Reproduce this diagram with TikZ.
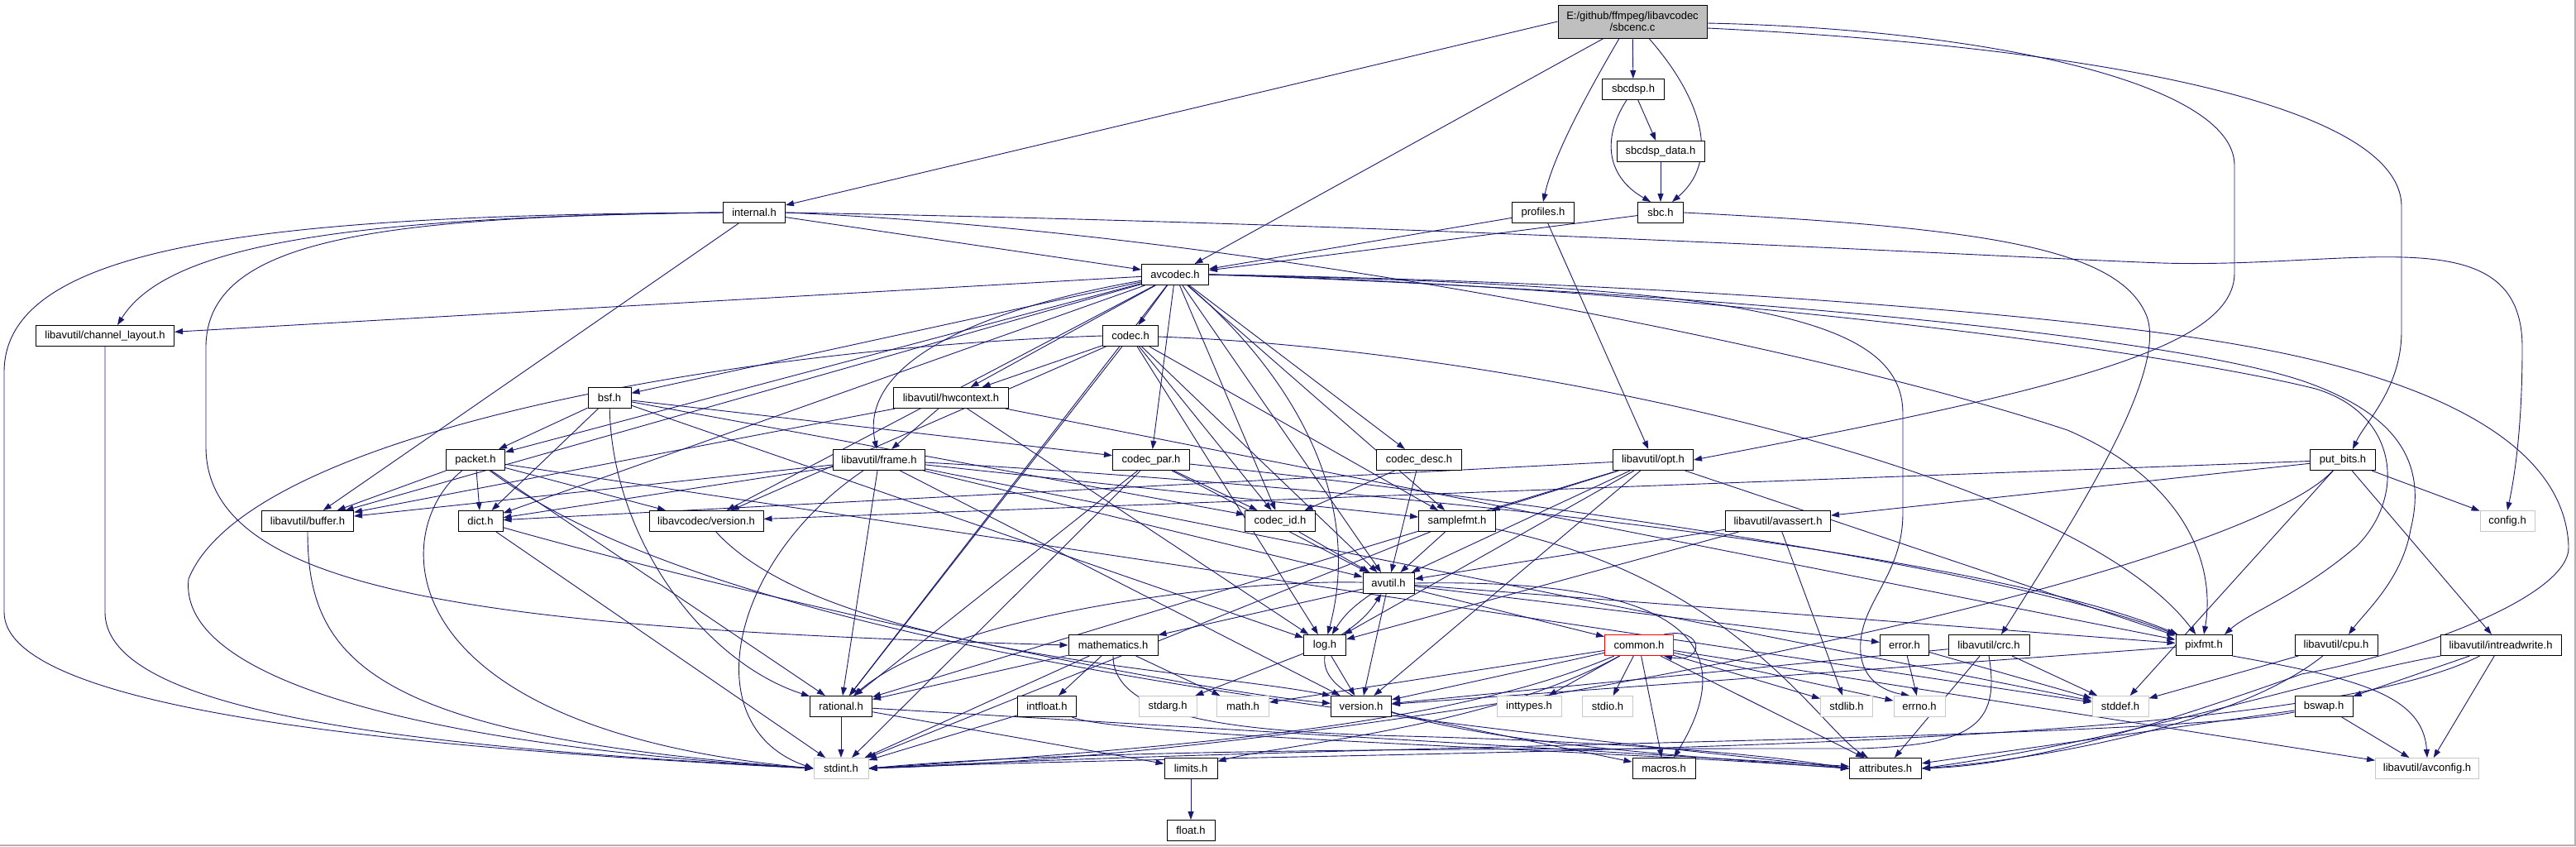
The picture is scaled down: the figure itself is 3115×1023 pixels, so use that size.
\documentclass[tikz,border=0pt]{standalone}
\usepackage{fontspec}
\setmainfont{Liberation Sans}
\usetikzlibrary{arrows.meta}
\definecolor{edgeblue}{RGB}{25,25,112}
\definecolor{rootgray}{RGB}{191,191,191}
\definecolor{sysgray}{RGB}{200,200,200}
\pgfdeclarelayer{edges}
\pgfsetlayers{edges,main}

\begin{document}
\begin{tikzpicture}[x=1pt,y=-1pt,
hdr/.style={draw=black,line width=1pt,fill=white,minimum height=25pt,inner sep=0pt,font=\fontsize{13}{14.5}\selectfont},
sys/.style={hdr,draw=sysgray},
arr/.style={-{Triangle[length=10pt,width=7pt]},draw=edgeblue,line width=0.9pt}]
\useasboundingbox (0,0) rectangle (3115,1023);
\draw[black!30,line width=1.5pt] (3114,0) -- (3114,1022) -- (0,1022);

\node[hdr,fill=rootgray,minimum width=180pt,minimum height=40pt,align=center] (sbcenc) at (1974,26) {E:/github/ffmpeg/libavcodec\\/sbcenc.c};
\node[hdr,minimum width=75pt] (sbcdsp) at (1975,108) {sbcdsp.h};
\node[hdr,minimum width=106pt] (sbcdspdata) at (2008,183) {sbcdsp\_data.h};
\node[hdr,minimum width=75pt] (internal) at (912,257) {internal.h};
\node[hdr,minimum width=75pt] (profiles) at (1866,257) {profiles.h};
\node[hdr,minimum width=55pt] (sbch) at (2008,257) {sbc.h};
\node[hdr,minimum width=81pt] (avcodec) at (1421,332) {avcodec.h};
\node[hdr,minimum width=167pt] (chlayout) at (127,406) {libavutil/channel\_layout.h};
\node[hdr,minimum width=67pt] (codec) at (1367,406) {codec.h};
\node[hdr,minimum width=52pt] (bsf) at (737,481) {bsf.h};
\node[hdr,minimum width=139pt] (hwctx) at (1150,481) {libavutil/hwcontext.h};
\node[hdr,minimum width=71pt] (packet) at (575,556) {packet.h};
\node[hdr,minimum width=111pt] (frame) at (1063,556) {libavutil/frame.h};
\node[hdr,minimum width=93pt] (codecpar) at (1392,556) {codec\_par.h};
\node[hdr,minimum width=103pt] (codecdesc) at (1716,556) {codec\_desc.h};
\node[hdr,minimum width=97pt] (opt) at (1999,556) {libavutil/opt.h};
\node[hdr,minimum width=79pt] (putbits) at (2833,556) {put\_bits.h};
\node[hdr,minimum width=111pt] (buffer) at (372,630) {libavutil/buffer.h};
\node[hdr,minimum width=54pt] (dict) at (581,630) {dict.h};
\node[hdr,minimum width=138pt] (lavcver) at (854,630) {libavcodec/version.h};
\node[hdr,minimum width=85pt] (codecid) at (1548,630) {codec\_id.h};
\node[hdr,minimum width=93pt] (samplefmt) at (1762,630) {samplefmt.h};
\node[hdr,minimum width=127pt] (avassert) at (2150,630) {libavutil/avassert.h};
\node[sys,minimum width=66pt] (config) at (3032,630) {config.h};
\node[hdr,minimum width=62pt] (avutil) at (1679,705) {avutil.h};
\node[hdr,minimum width=108pt] (math) at (1346,780) {mathematics.h};
\node[hdr,minimum width=51pt] (logh) at (1602,780) {log.h};
\node[hdr,draw=red,minimum width=83pt] (common) at (1982,780) {common.h};
\node[hdr,minimum width=59pt] (error) at (2303,780) {error.h};
\node[hdr,minimum width=98pt] (crc) at (2405,780) {libavutil/crc.h};
\node[hdr,minimum width=68pt] (pixfmt) at (2665,780) {pixfmt.h};
\node[hdr,minimum width=100pt] (cpu) at (2825,780) {libavutil/cpu.h};
\node[hdr,minimum width=146pt] (intrw) at (3024,780) {libavutil/intreadwrite.h};
\node[hdr,minimum width=75pt] (rational) at (1017,854) {rational.h};
\node[hdr,minimum width=71pt] (intfloat) at (1266,854) {intfloat.h};
\node[sys,minimum width=70pt] (stdarg) at (1412,854) {stdarg.h};
\node[sys,minimum width=63pt] (mathh) at (1503,854) {math.h};
\node[hdr,minimum width=73pt] (version) at (1646,854) {version.h};
\node[sys,minimum width=78pt] (inttypes) at (1849,854) {inttypes.h};
\node[sys,minimum width=61pt] (stdio) at (1944,854) {stdio.h};
\node[sys,minimum width=63pt] (stdlib) at (2233,854) {stdlib.h};
\node[sys,minimum width=62pt] (errno) at (2321,854) {errno.h};
\node[sys,minimum width=68pt] (stddef) at (2564,854) {stddef.h};
\node[hdr,minimum width=70pt] (bswap) at (2810,854) {bswap.h};
\node[sys,minimum width=66pt] (stdint) at (1017,929) {stdint.h};
\node[hdr,minimum width=64pt] (limits) at (1440,929) {limits.h};
\node[hdr,minimum width=76pt] (macros) at (2012,929) {macros.h};
\node[hdr,minimum width=87pt] (attributes) at (2280,929) {attributes.h};
\node[sys,minimum width=125pt] (avconfig) at (2935,929) {libavutil/avconfig.h};
\node[hdr,minimum width=58pt] (float) at (1440,1004) {float.h};

\begin{pgfonlayer}{edges}
\draw[arr] (sbcenc.west) -- (internal); \draw[arr] ([xshift=-35pt]sbcenc.south) -- (avcodec);
\draw[arr] ([xshift=-16pt]sbcenc.south) .. controls (1915,120) and (1878,190) .. (profiles.north);
\draw[arr] (sbcenc) -- (sbcdsp);
\draw[arr] ([xshift=20pt]sbcenc.south) .. controls (2050,110) and (2085,190) .. ([xshift=14pt]sbch.north);
\draw[arr] ([yshift=-2pt]sbcenc.east) .. controls (2400,35) and (2702,100) .. (2702,200) -- (2702,330) .. controls (2702,420) and (2500,470) .. (opt.east);
\draw[arr] ([yshift=-8pt]sbcenc.east) .. controls (2500,55) and (2904,120) .. (2904,250) -- (2904,400) .. controls (2904,470) and (2860,510) .. ([xshift=12pt]putbits.north);
\draw[arr] ([xshift=-8pt]sbcdsp.south) .. controls (1935,170) and (1945,215) .. ([xshift=-12pt]sbch.north);
\draw[arr] (sbcdsp) -- (sbcdspdata); \draw[arr] (sbcdspdata) -- (sbch);
\draw[arr] (profiles) -- (avcodec); \draw[arr] (profiles) -- (opt);
\draw[arr] (sbch) -- (avcodec);
\draw[arr] (sbch.east) .. controls (2400,275) and (2560,300) .. (2595,380) .. controls (2625,450) and (2500,640) .. ([xshift=15pt]crc.north);
\draw[arr] (internal) -- (avcodec); \draw[arr] (internal) -- (buffer);
\draw[arr] (internal.west) .. controls (400,262) and (200,300) .. ([xshift=15pt]chlayout.north);
\draw[arr] (internal.west) .. controls (450,262) and (249,290) .. (249,420) -- (249,540) .. controls (249,720) and (600,760) .. (math.west);
\draw[arr] (internal.west) .. controls (300,260) and (5,300) .. (5,450) -- (5,740) .. controls (5,860) and (500,905) .. (stdint.west);
\draw[arr] (internal.east) .. controls (1500,280) and (2200,420) .. (2500,520) .. controls (2640,580) and (2680,680) .. (pixfmt.north);
\draw[arr] (internal.east) .. controls (1700,270) and (2400,310) .. (2614,318) .. controls (2850,325) and (3050,260) .. (3050,420) .. controls (3050,520) and (3040,580) .. (config.north);
\draw[arr] (avcodec) -- (chlayout); \draw[arr] (avcodec) -- (buffer); \draw[arr] (avcodec) -- (dict);
\draw[arr] (avcodec) -- (bsf); \draw[arr] (avcodec) -- (packet); \draw[arr] (avcodec) -- (lavcver);
\draw[arr] (avcodec) -- (hwctx); \draw[arr] (avcodec) .. controls (1150,380) and (1040,450) .. (frame);
\draw[arr] (avcodec) -- (rational); \draw[arr] (avcodec) -- (codec); \draw[arr] (avcodec) -- (codecpar);
\draw[arr] (avcodec) -- (codecid); \draw[arr] (avcodec) -- (codecdesc); \draw[arr] (avcodec) -- (samplefmt);
\draw[arr] (avcodec) -- (avutil); \draw[arr] (avcodec) .. controls (1560,450) and (1650,600) .. (logh);
\draw[arr] (avcodec.east) .. controls (2000,345) and (2600,420) .. (2800,470) .. controls (2900,500) and (2910,600) .. (2850,660) .. controls (2780,720) and (2720,740) .. ([xshift=25pt]pixfmt.north);
\draw[arr] (avcodec.east) .. controls (2000,350) and (2600,400) .. (2783,460) .. controls (2900,500) and (2935,560) .. (2915,640) .. controls (2905,700) and (2860,740) .. ([xshift=15pt]cpu.north);
\draw[arr] (avcodec.east) .. controls (2000,340) and (2500,380) .. (2708,417) .. controls (2900,450) and (3100,520) .. (3106,660) .. controls (3110,720) and (2920,790) .. (2783,815) .. controls (2600,880) and (2450,925) .. (attributes.east);
\draw[arr] (avcodec.east) .. controls (2100,345) and (2301,380) .. (2301,500) -- (2301,620) .. controls (2301,700) and (2245,730) .. (2250,790) .. controls (2253,820) and (2275,835) .. ([xshift=-12pt]errno.north);
\draw[arr] (codec) -- (hwctx); \draw[arr] (codec) -- (lavcver); \draw[arr] (codec) -- (rational);
\draw[arr] (codec) -- (logh); \draw[arr] (codec) -- (avutil); \draw[arr] (codec) -- (codecid);
\draw[arr] (codec) -- (samplefmt); \draw[arr] (codec) .. controls (1800,420) and (2500,560) .. (pixfmt);
\draw[arr] (codec.west) .. controls (900,420) and (300,520) .. (228,700) .. controls (215,820) and (500,900) .. (stdint.west);
\draw[arr] (bsf) -- (packet); \draw[arr] (bsf) -- (dict); \draw[arr] (bsf) -- (codecpar);
\draw[arr] (bsf) -- (codecid); \draw[arr] (bsf) -- (logh);
\draw[arr] (bsf) .. controls (740,650) and (850,800) .. (rational);
\draw[arr] (hwctx) -- (frame); \draw[arr] (hwctx) -- (buffer); \draw[arr] (hwctx) -- (logh); \draw[arr] (hwctx) -- (pixfmt);
\draw[arr] (packet) -- (buffer); \draw[arr] (packet) -- (dict); \draw[arr] (packet) -- (lavcver);
\draw[arr] (packet) -- (rational); \draw[arr] (packet) -- (stddef);
\draw[arr] (packet) .. controls (470,640) and (460,880) .. (stdint.west);
\draw[arr] (packet) .. controls (900,800) and (1800,880) .. (attributes.west);
\draw[arr] (frame) -- (buffer); \draw[arr] (frame) -- (dict); \draw[arr] (frame) -- (rational);
\draw[arr] (frame) -- (avutil); \draw[arr] (frame) -- (samplefmt); \draw[arr] (frame) -- (version); \draw[arr] (frame) -- (stddef);
\draw[arr] (frame) .. controls (880,680) and (840,880) .. (stdint.west);
\draw[arr] (frame) .. controls (1500,580) and (2350,650) .. (pixfmt);
\draw[arr] (codecpar) -- (codecid); \draw[arr] (codecpar) -- (avutil); \draw[arr] (codecpar) -- (rational); \draw[arr] (codecpar) -- (stdint);
\draw[arr] (codecpar) .. controls (1800,600) and (2400,680) .. (pixfmt);
\draw[arr] (codecdesc) -- (codecid); \draw[arr] (codecdesc) -- (avutil);
\draw[arr] (opt) -- (samplefmt); \draw[arr] (opt) -- (dict); \draw[arr] (opt) -- (rational); \draw[arr] (opt) -- (avutil);
\draw[arr] (opt) -- (logh); \draw[arr] (opt) -- (version); \draw[arr] (opt) -- (pixfmt);
\draw[arr] (putbits) -- (avassert); \draw[arr] (putbits) -- (config); \draw[arr] (putbits) -- (intrw);
\draw[arr] (putbits) -- (stddef); \draw[arr] (putbits) -- (lavcver);
\draw[arr] (putbits) .. controls (2700,700) and (1700,910) .. (stdint.east);
\draw[arr] (dict) -- (stdint); \draw[arr] (dict) .. controls (900,720) and (1400,830) .. (version);
\draw[arr] (lavcver) .. controls (1000,790) and (1450,810) .. (version.north west);
\draw[arr] (codecid) -- (avutil);
\draw[arr] (avassert) -- (avutil); \draw[arr] (avassert) -- (logh); \draw[arr] (avassert) -- (stdlib);
\draw[arr] (samplefmt) -- (avutil); \draw[arr] (samplefmt) -- (stdint);
\draw[arr] (samplefmt) .. controls (2100,700) and (2200,880) .. (attributes);
\draw[arr] (chlayout) -- (127,740) .. controls (127,870) and (550,905) .. (stdint.west);
\draw[arr] (buffer) .. controls (372,800) and (450,890) .. (stdint.west);
\draw[arr] (avutil) to[bend right=12] (logh); \draw[arr] (logh) to[bend right=12] (avutil);
\draw[arr] (avutil) -- (math); \draw[arr] (avutil) -- (common); \draw[arr] (avutil) -- (error);
\draw[arr] (avutil) -- (version); \draw[arr] (avutil) -- (pixfmt);
\draw[arr] (avutil) .. controls (1500,700) and (1150,740) .. (rational);
\draw[arr] (avutil.east) .. controls (2000,700) and (2120,760) .. ([xshift=12pt]macros.north);
\draw[arr] (pixfmt) -- (version); \draw[arr] (pixfmt.south east) .. controls (2850,820) and (2930,840) .. (avconfig.north);
\draw[arr] (math) -- (intfloat); \draw[arr] (math) -- (rational); \draw[arr] (math) -- (stdint); \draw[arr] (math) -- (mathh);
\draw[arr] (math.south) .. controls (1346,870) and (1500,885) .. (1700,890) .. controls (2000,898) and (2150,915) .. (attributes.west);
\draw[arr] (logh) -- (stdarg); \draw[arr] (logh) -- (version);
\draw[arr] (logh.south) .. controls (1590,880) and (1900,905) .. (attributes.west);
\draw[arr] (common) -- (version); \draw[arr] (common) -- (inttypes); \draw[arr] (common) -- (stdio);
\draw[arr] (common) -- (macros); \draw[arr] (common) -- (stdlib); \draw[arr] (common) -- (errno);
\draw[arr] (common) -- (attributes); \draw[arr] (common) -- (mathh); \draw[arr] (common) -- (avconfig);
\draw[arr] (common) .. controls (1800,880) and (1550,900) .. (limits);
\draw[arr] (common) .. controls (1750,880) and (1400,905) .. (stdint.east);
\draw[arr] ([xshift=-12pt]common.north east) .. controls +(50,-10) and +(50,10) .. ([xshift=-12pt]common.south east);
\draw[arr] (error) -- (errno); \draw[arr] (error) -- (stddef);
\draw[arr] (crc) -- (stddef); \draw[arr] (crc) -- (version); \draw[arr] (crc) -- (attributes);
\draw[arr] (crc.south) .. controls (2420,880) and (2380,900) .. (2250,905) .. controls (1800,905) and (1300,905) .. (stdint.east);
\draw[arr] (cpu) -- (stddef); \draw[arr] (cpu) .. controls (2700,880) and (2450,920) .. (attributes.east);
\draw[arr] (intrw) -- (bswap); \draw[arr] (intrw) -- (avconfig);
\draw[arr] (intrw) .. controls (2800,820) and (2600,890) .. (attributes.east);
\draw[arr] (intrw) .. controls (2750,920) and (1600,905) .. (stdint.east);
\draw[arr] (bswap) -- (avconfig); \draw[arr] (bswap) -- (attributes);
\draw[arr] (bswap) .. controls (2600,895) and (1600,900) .. (stdint.east);
\draw[arr] (rational) -- (stdint); \draw[arr] (rational) -- (limits); \draw[arr] (rational) -- (attributes);
\draw[arr] (intfloat) -- (stdint); \draw[arr] (intfloat) .. controls (1350,890) and (1900,905) .. (attributes.west);
\draw[arr] (version) -- (macros);
\draw[arr] (limits) -- (float);
\end{pgfonlayer}
\end{tikzpicture}
\end{document}
